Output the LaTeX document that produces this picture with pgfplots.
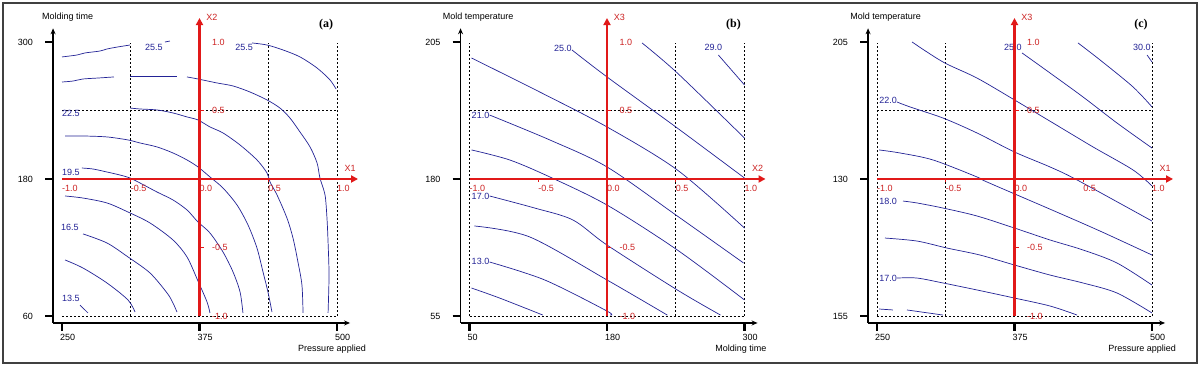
\documentclass[border=0pt]{standalone}
\usepackage{pgfplots}
\pgfplotsset{compat=1.18}
\usetikzlibrary{arrows.meta}
\usepackage{fontspec}
\setmainfont{Liberation Sans}
\newfontfamily\serifb{Liberation Serif}
\definecolor{cblue}{RGB}{35,35,150}
\definecolor{cred}{RGB}{225,25,25}
\definecolor{tred}{RGB}{205,35,35}
\newcommand{\fs}{\fontsize{9}{9}\selectfont}
\pgfplotsset{
 panel/.style={
  x=137.5pt, y=137pt, anchor=origin,
  xmin=-1.065, xmax=1.095, ymin=-1.051, ymax=1.10,
  axis lines=left,
  axis line style={line width=1.3pt, -{Stealth[length=6pt,width=5pt]}},
  xtick={-1,0,1}, ytick={-1,0,1},
  tick align=outside, major tick length=8pt,
  every tick/.style={line width=2.4pt, black},
  xticklabel style={anchor=north west, inner sep=0pt, font=\fs, xshift=-2pt, yshift=-3pt},
  yticklabel style={anchor=east, inner sep=0pt, font=\fs, xshift=-12pt},
  clip=false,
 },
 cont/.style={cblue, line width=0.7pt, mark=none, smooth, tension=0.5},
 dots/.style={black, line width=0.8pt, dash pattern=on 2pt off 2pt, mark=none},
 redax/.style={cred, line width=2.6pt, mark=none, -{Triangle[length=7pt,width=7pt]}},
 rtick/.style={cred, line width=1pt, mark=none},
}
\newcommand{\redlabels}[2]{%
 \node[tred,font=\fs,anchor=west,inner sep=0pt] at (axis cs:-1,-0.066) {-1.0};
 \node[tred,font=\fs,anchor=west,inner sep=0pt] at (axis cs:-0.5,-0.066) {-0.5};
 \node[tred,font=\fs,anchor=west,inner sep=0pt] at (axis cs:0,-0.066) {0.0};
 \node[tred,font=\fs,anchor=west,inner sep=0pt] at (axis cs:0.5,-0.066) {0.5};
 \node[tred,font=\fs,anchor=west,inner sep=0pt] at (axis cs:1,-0.066) {1.0};
 \node[tred,font=\fs,anchor=west,inner sep=0pt] at (axis cs:0.09,1) {1.0};
 \node[tred,font=\fs,anchor=west,inner sep=0pt] at (axis cs:0.09,0.5) {0.5};
 \node[tred,font=\fs,anchor=west,inner sep=0pt] at (axis cs:0.09,-0.5) {-0.5};
 \node[tred,font=\fs,anchor=west,inner sep=0pt] at (axis cs:0.09,-1) {-1.0};
 \node[tred,font=\fs] at (axis cs:1.095,0.08) {#1};
 \node[tred,font=\fs] at (axis cs:0.09,1.18) {#2};
 \addplot[rtick] coordinates {(-0.5,0)(-0.5,-0.025)};
 \addplot[rtick] coordinates {(0.5,0)(0.5,-0.025)};
 \addplot[rtick] coordinates {(0,0.5)(0.03,0.5)};
 \addplot[rtick] coordinates {(0,-0.5)(0.03,-0.5)};
}
\begin{document}
\begin{tikzpicture}
\useasboundingbox (0,0) rectangle (1200pt,366pt);
\fill[white] (0,0) rectangle (1200pt,366pt);
%================ (a)
\begin{axis}[panel, at={(199.5pt,187pt)},
  xticklabels={250,375,500}, yticklabels={60,180,300}]
 \addplot[dots] coordinates {(-0.5,-1)(-0.5,0.99)};
 \addplot[dots] coordinates {(0.5,-1)(0.5,0.99)};
 \addplot[dots] coordinates {(1,-1)(1,0.99)};
 \addplot[dots] coordinates {(-1,0.5)(1,0.5)};
 \addplot[dots] coordinates {(-1,-1)(1,-1)};
 % contours
 \addplot[cont] coordinates {(-1,0.891)(-0.891,0.905)(-0.833,0.920)(-0.724,0.934)(-0.673,0.949)(-0.593,0.964)(-0.505,0.978)};
 \addplot[cont] coordinates {(-0.251,1.0)(-0.215,1.007)};
 \addplot[cont] coordinates {(0.382,0.993)(0.491,0.978)(0.607,0.942)(0.731,0.891)(0.855,0.810)(0.949,0.723)(0.993,0.657)};
 \addplot[cont] coordinates {(-1,0.708)(-0.920,0.715)(-0.847,0.730)(-0.738,0.737)(-0.622,0.745)};
 \addplot[cont] coordinates {(-0.505,0.752)(-0.164,0.752)};
 \addplot[cont] coordinates {(-0.091,0.745)(-0.011,0.730)(0.127,0.701)(0.244,0.679)(0.367,0.635)(0.491,0.577)(0.585,0.518)(0.658,0.445)(0.731,0.343)(0.804,0.234)(0.855,0.117)(0.876,0.007)(0.913,-0.117)(0.927,-0.285)(0.935,-0.460)(0.942,-0.701)(0.935,-0.978)};
 \addplot[cont] coordinates {(-0.505,0.518)(-0.433,0.511)(-0.309,0.504)(-0.193,0.482)(-0.091,0.453)(-0.011,0.431)(0.076,0.380)(0.171,0.336)(0.295,0.248)(0.418,0.139)(0.491,0.044)(0.513,-0.022)(0.564,-0.117)(0.636,-0.285)(0.680,-0.431)(0.716,-0.606)(0.745,-0.774)(0.753,-0.978)};
 \addplot[cont] coordinates {(-0.978,0.314)(-0.847,0.314)(-0.673,0.307)(-0.520,0.285)(-0.433,0.263)(-0.309,0.234)(-0.193,0.190)(-0.091,0.139)(-0.011,0.088)(0.076,0.015)(0.171,-0.066)(0.273,-0.190)(0.353,-0.336)(0.418,-0.504)(0.462,-0.679)(0.498,-0.825)(0.527,-0.971)};
 \addplot[cont] coordinates {(-0.855,0.080)(-0.775,0.073)(-0.673,0.051)(-0.578,0.029)(-0.505,0.007)(-0.433,-0.029)(-0.309,-0.095)(-0.193,-0.153)(-0.091,-0.226)(-0.011,-0.314)(0.076,-0.394)(0.171,-0.533)(0.244,-0.679)(0.295,-0.825)(0.316,-0.978)};
 \addplot[cont] coordinates {(-0.978,-0.124)(-0.847,-0.139)(-0.673,-0.175)(-0.520,-0.241)(-0.360,-0.321)(-0.193,-0.445)(-0.091,-0.569)(-0.011,-0.745)(0.055,-0.898)(0.076,-0.978)};
 \addplot[cont] coordinates {(-0.847,-0.401)(-0.673,-0.467)(-0.520,-0.569)(-0.360,-0.686)(-0.236,-0.832)(-0.193,-0.905)(-0.164,-0.971)};
 \addplot[cont] coordinates {(-0.978,-0.591)(-0.847,-0.650)(-0.673,-0.759)(-0.520,-0.883)(-0.469,-0.971)};
 \addplot[cont] coordinates {(-0.869,-0.920)(-0.811,-0.978)};
 \node[cblue,font=\fs] at (axis cs:-0.331,0.964) {25.5};
 \node[cblue,font=\fs] at (axis cs:0.324,0.964) {25.5};
 \node[cblue,font=\fs] at (axis cs:-0.935,0.482) {22.5};
 \node[cblue,font=\fs] at (axis cs:-0.935,0.051) {19.5};
 \node[cblue,font=\fs] at (axis cs:-0.942,-0.350) {16.5};
 \node[cblue,font=\fs] at (axis cs:-0.935,-0.869) {13.5};
 \addplot[redax] coordinates {(-1,0)(1.153,0)};
 \addplot[redax] coordinates {(0,-1)(0,1.175)};
 \redlabels{X1}{X2}
 \node[font=\fs,anchor=west] at (axis cs:-1.17,1.18) {Molding time};
 \node[font=\fs,anchor=east] at (axis cs:1.235,-1.24) {Pressure applied};
 \node[font=\serifb\bfseries\fontsize{12}{12}\selectfont] at (axis cs:0.92,1.124) {(a)};
\end{axis}
%================ (b)
\begin{axis}[panel, at={(607pt,187pt)},
  xticklabels={50,180,300}, yticklabels={55,180,205}]
 \addplot[dots] coordinates {(-1,-1)(-1,0.99)};
 \addplot[dots] coordinates {(0.5,-1)(0.5,0.99)};
 \addplot[dots] coordinates {(1,-1)(1,0.99)};
 \addplot[dots] coordinates {(-1,0.5)(1,0.5)};
 \addplot[dots] coordinates {(-1,-1)(1,-1)};
 \addplot[cont] coordinates {(0.810,0.905)(1.0,0.686)};
 \addplot[cont] coordinates {(0.255,0.993)(0.511,0.774)(1.0,0.299)};
 \addplot[cont] coordinates {(-0.255,0.942)(0,0.745)(0.511,0.372)(1.0,0.007)};
 \addplot[cont] coordinates {(-0.985,0.883)(-0.489,0.635)(0,0.380)(0.511,0.066)(1.0,-0.358)};
 \addplot[cont] coordinates {(-0.854,0.467)(-0.416,0.285)(0,0.088)(0.511,-0.270)(0.993,-0.613)};
 \addplot[cont] coordinates {(-0.985,0.212)(-0.708,0.139)(-0.416,0.015)(0,-0.190)(0.511,-0.518)(1.0,-0.883)};
 \addplot[cont] coordinates {(-0.854,-0.124)(-0.526,-0.212)(-0.248,-0.299)(0,-0.482)(0.511,-0.810)(0.825,-0.993)};
 \addplot[cont] coordinates {(-0.964,-0.343)(-0.562,-0.423)(0,-0.737)(0.438,-0.993)};
 \addplot[cont] coordinates {(-0.854,-0.606)(-0.453,-0.737)(0,-0.964)(0.022,-0.993)};
 \addplot[cont] coordinates {(-0.985,-0.796)(-0.781,-0.869)(-0.467,-0.993)};
 \node[cblue,font=\fs] at (axis cs:0.774,0.964) {29.0};
 \node[cblue,font=\fs] at (axis cs:-0.321,0.956) {25.0};
 \node[cblue,font=\fs] at (axis cs:-0.920,0.467) {21.0};
 \node[cblue,font=\fs] at (axis cs:-0.920,-0.124) {17.0};
 \node[cblue,font=\fs] at (axis cs:-0.920,-0.599) {13.0};
 \addplot[redax] coordinates {(-1,0)(1.153,0)};
 \addplot[redax] coordinates {(0,-1)(0,1.175)};
 \redlabels{X2}{X3}
 \node[font=\fs,anchor=west] at (axis cs:-1.22,1.18) {Mold temperature};
 \node[font=\fs,anchor=east] at (axis cs:1.185,-1.24) {Molding time};
 \node[font=\serifb\bfseries\fontsize{12}{12}\selectfont] at (axis cs:0.92,1.124) {(b)};
\end{axis}
%================ (c)
\begin{axis}[panel, at={(1014.5pt,187pt)},
  xticklabels={250,375,500}, yticklabels={155,130,205}]
 \addplot[dots] coordinates {(-1,-1)(-1,0.99)};
 \addplot[dots] coordinates {(-0.5,-1)(-0.5,0.99)};
 \addplot[dots] coordinates {(1,-1)(1,0.99)};
 \addplot[dots] coordinates {(-1,0.5)(1,0.5)};
 \addplot[dots] coordinates {(-1,-1)(1,-1)};
 \addplot[cont] coordinates {(0.964,0.905)(1.0,0.854)};
 \addplot[cont] coordinates {(0.462,0.993)(0.622,0.869)(0.862,0.672)(1.0,0.526)};
 \addplot[cont] coordinates {(0.055,0.920)(0.258,0.774)(0.498,0.599)(0.745,0.409)(1.0,0.226)};
 \addplot[cont] coordinates {(-0.745,1.0)(-0.520,0.854)(-0.273,0.737)(0,0.577)(0.280,0.409)(0.571,0.234)(0.862,0.066)(1.0,-0.051)};
 \addplot[cont] coordinates {(-0.855,0.562)(-0.760,0.526)(-0.520,0.445)(-0.273,0.336)(0,0.197)(0.258,0.088)(0.455,-0.007)(1.0,-0.307)};
 \addplot[cont] coordinates {(-0.985,0.212)(-0.833,0.190)(-0.593,0.139)(-0.273,0.015)(-0.200,-0.022)(0.258,-0.22)(0.622,-0.38)(1.0,-0.555)};
 \addplot[cont] coordinates {(-0.811,-0.161)(-0.709,-0.175)(-0.520,-0.212)(-0.273,-0.270)(0,-0.358)(0.258,-0.445)(0.498,-0.518)(0.745,-0.613)(1.0,-0.774)};
 \addplot[cont] coordinates {(-0.942,-0.431)(-0.709,-0.453)(-0.491,-0.504)(-0.251,-0.555)(0,-0.628)(0.258,-0.701)(0.498,-0.759)(0.745,-0.832)(1.0,-0.978)};
 \addplot[cont] coordinates {(-0.855,-0.723)(-0.709,-0.723)(-0.520,-0.759)(-0.273,-0.810)(0,-0.869)(0.258,-0.927)(0.455,-0.993)};
 \addplot[cont] coordinates {(-0.985,-0.949)(-0.884,-0.956)};
 \addplot[cont] coordinates {(-0.782,-0.956)(-0.520,-0.993)};
 \node[cblue,font=\fs] at (axis cs:0.927,0.964) {30.0};
 \node[cblue,font=\fs] at (axis cs:-0.011,0.964) {25.0};
 \node[cblue,font=\fs] at (axis cs:-0.920,0.577) {22.0};
 \node[cblue,font=\fs] at (axis cs:-0.920,-0.161) {18.0};
 \node[cblue,font=\fs] at (axis cs:-0.920,-0.723) {17.0};
 \addplot[redax] coordinates {(-1,0)(1.153,0)};
 \addplot[redax] coordinates {(0,-1)(0,1.175)};
 \redlabels{X1}{X3}
 \node[font=\fs,anchor=west] at (axis cs:-1.22,1.18) {Mold temperature};
 \node[font=\fs,anchor=east] at (axis cs:1.2,-1.24) {Pressure applied};
 \node[font=\serifb\bfseries\fontsize{12}{12}\selectfont] at (axis cs:0.92,1.124) {(c)};
\end{axis}
\draw[black!75, line width=1.3pt] (3pt,3pt) rectangle (1197pt,363pt);
\end{tikzpicture}
\end{document}
